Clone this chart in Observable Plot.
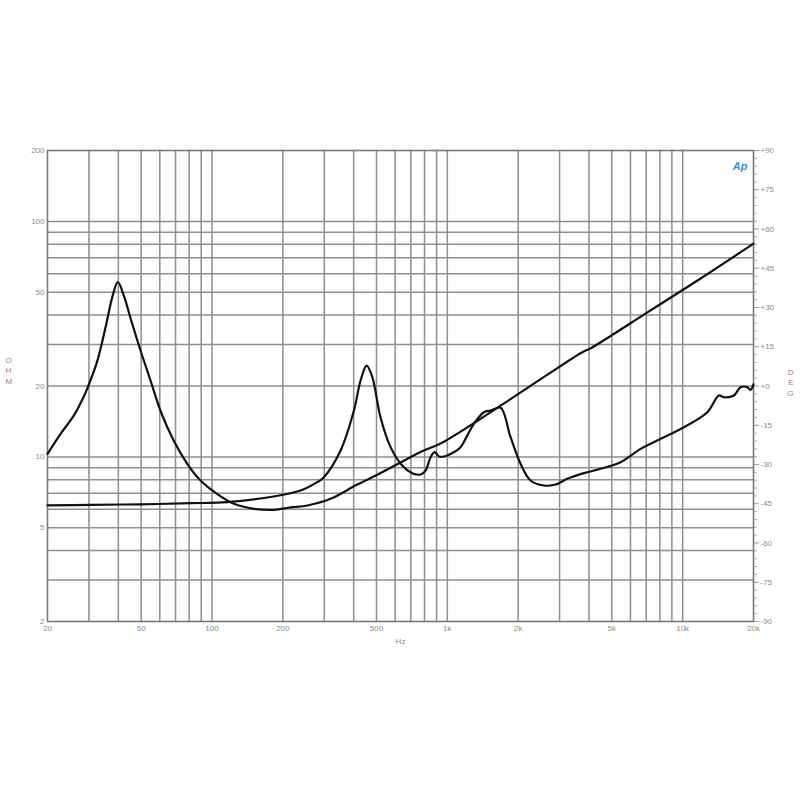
<!DOCTYPE html>
<html><head><meta charset="utf-8">
<script src="https://cdn.jsdelivr.net/npm/d3@7"></script>
<script src="https://cdn.jsdelivr.net/npm/@observablehq/plot@0.6"></script>
<style>body{margin:0;background:#fff;font-family:"Liberation Sans",Arial,sans-serif;}</style>
</head><body><div id="chart"></div>
<script>
// Curve A: impedance with 40 Hz resonance, rising with inductance
const freqA = [20, 22.7, 25.9, 28.5, 29.5, 32.5, 35.3, 37.7, 39.8, 42.2, 45.1, 49.7, 54.8, 60.4, 68.8, 78.5, 89.4, 105, 124, 151, 183, 216, 254, 319, 414, 536, 770, 936, 1138, 1684, 2746, 3794, 4062, 7306, 11920, 20000];
const ohmA  = [10.3, 12.5, 15.0, 18.0, 19.5, 25.4, 35.5, 47.7, 55.2, 48.4, 38.7, 28.3, 21.1, 15.7, 11.7, 9.35, 7.94, 6.97, 6.32, 6.02, 5.96, 6.10, 6.22, 6.64, 7.63, 8.67, 10.5, 11.4, 12.8, 16.5, 22.8, 28.0, 28.9, 41.9, 57.2, 80.5];
// Curve B: impedance with 460 Hz resonance
const freqB = [20, 30.5, 49.7, 81.1, 116, 183, 238, 280, 299, 352, 401, 428, 454, 480, 520, 574, 643, 709, 770, 808, 849, 883, 921, 967, 1066, 1138, 1195, 1296, 1430, 1527, 1684, 1857, 2047, 2258, 2572, 2884, 3234, 3804, 4480, 5448, 6626, 8058, 10122, 12728, 14258, 14972, 16510, 17628, 18824, 19440, 20000];
const ohmB  = [6.22, 6.26, 6.29, 6.36, 6.42, 6.79, 7.20, 7.81, 8.20, 10.64, 15.74, 21.1, 24.4, 21.8, 14.74, 11.0, 9.19, 8.53, 8.42, 8.75, 9.97, 10.47, 10.04, 10.04, 10.47, 11.0, 11.93, 13.82, 15.48, 15.74, 16.16, 12.12, 9.35, 7.94, 7.56, 7.63, 8.07, 8.53, 8.90, 9.49, 10.82, 11.93, 13.37, 15.48, 18.23, 17.92, 18.23, 19.77, 19.77, 19.26, 20.3];

const xTicks = [20, 50, 100, 200, 500, 1000, 2000, 5000, 10000, 20000];
const xTickLabels = ["20", "50", "100", "200", "500", "1k", "2k", "5k", "10k", "20k"];
const xGrid = [30, 40, 50, 60, 70, 80, 90, 100, 200, 300, 400, 500, 600, 700, 800, 900, 1000, 2000, 3000, 4000, 5000, 6000, 7000, 8000, 9000, 10000];
const yTicks = [2, 5, 10, 20, 50, 100, 200];
const yTickLabels = ["2", "5", "10", "20", "50", "100", "200"];
const yGrid = [3, 4, 5, 6, 7, 8, 9, 10, 20, 30, 40, 50, 60, 70, 80, 90, 100];
const degTicks = [90, 75, 60, 45, 30, 15, 0, -15, -30, -45, -60, -75, -90];
const degLabels = ["+90", "+75", "+60", "+45", "+30", "+15", "+0", "-15", "-30", "-45", "-60", "-75", "-90"];
const degMinor = d3.range(-90, 91, 3).filter(d => d % 15 !== 0);

const yMin = 2, yMax = 200;
// the DEG axis is linear in degrees, the OHM axis is logarithmic; both share the same pixel extent
const degToOhm = d => yMin * Math.pow(yMax / yMin, (d + 90) / 180);

const dataA = freqA.map((f, i) => ({f, z: ohmA[i]}));
const dataB = freqB.map((f, i) => ({f, z: ohmB[i]}));
const xLab = xTicks.map((t, i) => ({t, s: xTickLabels[i]}));
const yLab = yTicks.map((t, i) => ({t, s: yTickLabels[i]}));
const dLab = degTicks.map((d, i) => ({z: degToOhm(d), s: degLabels[i]}));

const gridColor = "#8e8e8e";
const labelColor = "#8a8a8a";

const chart = Plot.plot({
  width: 800,
  height: 800,
  marginLeft: 47,
  marginRight: 47,
  marginTop: 150,
  marginBottom: 179,
  style: {fontFamily: "Liberation Sans, Arial, sans-serif", background: "#fff"},
  x: {type: "log", domain: [20, 20000], axis: null},
  y: {type: "log", domain: [yMin, yMax], axis: null},
  marks: [
    Plot.ruleX(xGrid, {stroke: gridColor, strokeWidth: 1.5}),
    Plot.ruleY(yGrid, {stroke: gridColor, strokeWidth: 1.5}),
    Plot.frame({stroke: "#7a7a7a", strokeWidth: 1.6}),
    Plot.text(xLab, {x: "t", text: "s", frameAnchor: "bottom", dy: 9, fontSize: 8, fill: labelColor}),
    Plot.text(yLab, {y: "t", text: "s", frameAnchor: "left", dx: -3, textAnchor: "end", fontSize: 8, fill: labelColor}),
    Plot.axisY(degTicks.map(degToOhm), {anchor: "right", tickSize: 5, tickFormat: () => "", stroke: "#999", label: null}),
    Plot.axisY(degMinor.map(degToOhm), {anchor: "right", tickSize: 3, tickFormat: () => "", stroke: "#aaa", label: null}),
    Plot.text(dLab, {y: "z", text: "s", frameAnchor: "right", dx: 7, textAnchor: "start", fontSize: 8, fill: labelColor}),
    Plot.text(["Hz"], {frameAnchor: "bottom", dy: 22, fontSize: 8, fill: labelColor}),
    Plot.text(["O\nH\nM"], {frameAnchor: "left", dx: -42, dy: -16, fontSize: 8, lineHeight: 1.35, fill: "#a08080"}),
    Plot.text(["D\nE\nG"], {frameAnchor: "right", dx: 40, dy: -4, fontSize: 8, lineHeight: 1.35, fill: "#a08080"}),
    Plot.text(["Ap"], {frameAnchor: "top-right", dx: -6, dy: 12, fontSize: 11, fontStyle: "italic", fontWeight: "bold", fill: "#3a8ccc", textAnchor: "end"}),
    Plot.line(dataA, {x: "f", y: "z", stroke: "#111", strokeWidth: 2.2, curve: "catmull-rom"}),
    Plot.line(dataB, {x: "f", y: "z", stroke: "#111", strokeWidth: 2.2, curve: "catmull-rom"})
  ]
});
document.getElementById("chart").appendChild(chart);
</script>
</body></html>
